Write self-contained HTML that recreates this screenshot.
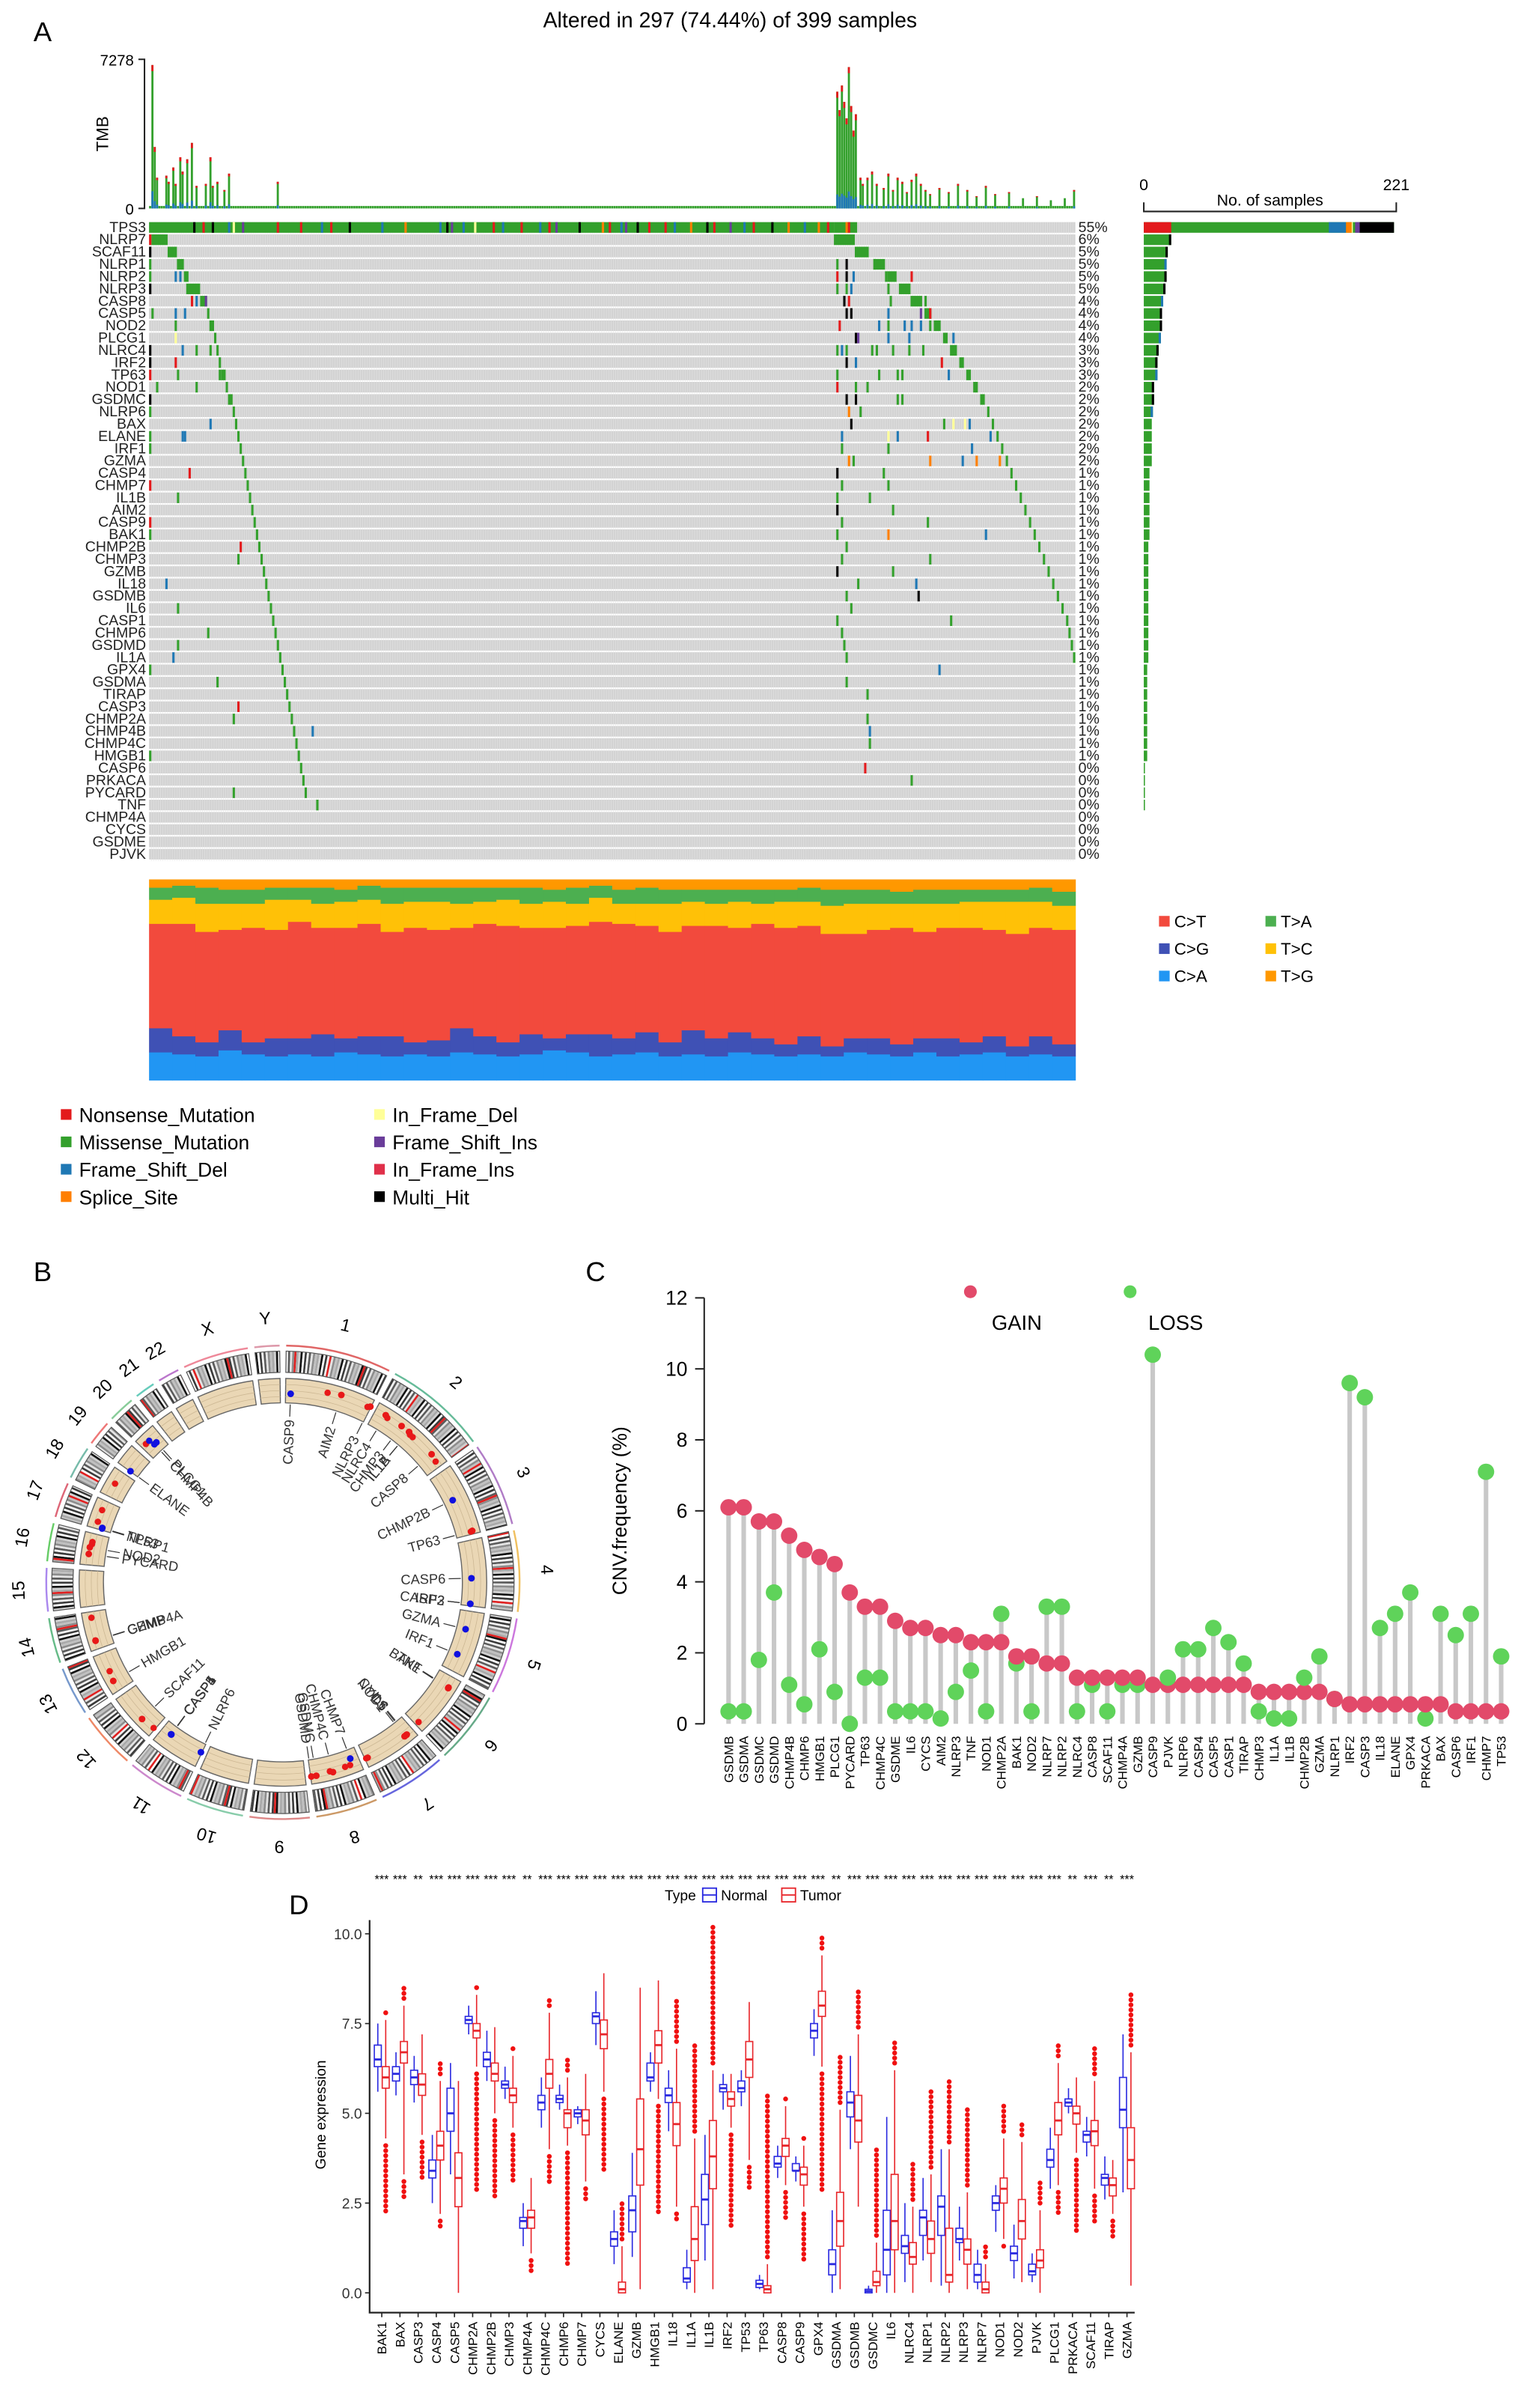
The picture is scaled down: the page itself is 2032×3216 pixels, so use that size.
<!DOCTYPE html>
<html><head><meta charset="utf-8"><style>
html,body{margin:0;padding:0;background:#fff;}
svg{display:block;font-family:"Liberation Sans",sans-serif;}
.n{font-family:"Liberation Sans Narrow","Liberation Sans",sans-serif;}
</style></head><body>
<svg id="fig" xmlns="http://www.w3.org/2000/svg" width="2032" height="3216" viewBox="0 0 1000 1582.68">
<rect x="0" y="0" width="1000" height="1582.68" fill="#fff"/>
<text x="22" y="27" font-size="18">A</text>
<text x="480" y="18" font-size="14" text-anchor="middle">Altered in 297 (74.44%) of 399 samples</text>
<text x="22" y="842" font-size="18">B</text>
<text x="385" y="842" font-size="18">C</text>
<text x="190" y="1258" font-size="18">D</text>
<g id="gA"></g>
<g id="gB"></g>
<g id="gC"></g>
<g id="gD"></g>
</svg>
<script>
const NS='http://www.w3.org/2000/svg';
function mk(tag,at,p){const e=document.createElementNS(NS,tag);for(const k in at)e.setAttribute(k,at[k]);p.appendChild(e);return e;}
function tx(s,at,p){const e=mk('text',at,p);e.textContent=s;return e;}

/* ================= PANEL A DATA ================= */
const oncoGenes=['TPS3','NLRP7','SCAF11','NLRP1','NLRP2','NLRP3','CASP8','CASP5','NOD2','PLCG1','NLRC4','IRF2','TP63','NOD1','GSDMC','NLRP6','BAX','ELANE','IRF1','GZMA','CASP4','CHMP7','IL1B','AIM2','CASP9','BAK1','CHMP2B','CHMP3','GZMB','IL18','GSDMB','IL6','CASP1','CHMP6','GSDMD','IL1A','GPX4','GSDMA','TIRAP','CASP3','CHMP2A','CHMP4B','CHMP4C','HMGB1','CASP6','PRKACA','PYCARD','TNF','CHMP4A','CYCS','GSDME','PJVK'];
const oncoPct=[55,6,5,5,5,5,4,4,4,4,3,3,3,2,2,2,2,2,2,2,1,1,1,1,1,1,1,1,1,1,1,1,1,1,1,1,1,1,1,1,1,1,1,1,0,0,0,0,0,0,0,0];
const oncoCount=[219,24,21,20,20,19,17,16,16,15,13,12,12,9,9,8,7,7,7,7,5,5,5,5,5,5,4,4,4,4,4,4,4,4,4,4,3,3,3,3,3,3,3,3,1,1,1,1,0,0,0,0];
const diagL=[[0,0],[1,7],[8,4],[12,3],[15,2],[16,6],[22,3],[25,1],[26,2],[28,1],[29,1],[30,1],[31,2],[33,1],[34,2],[36,1],[37,1],[38,1],[39,1],[40,1],[41,1],[42,1],[43,1],[44,1],[45,1],[46,1],[47,1],[48,1],[49,1],[50,1],[51,1],[52,1],[53,1],[54,1],[55,1],[56,1],[57,1],[58,1],[59,1],[60,1],[61,1],[62,1],[63,1],[64,1],[65,1],[66,1],[67,1],[72,1],[0,0],[0,0],[0,0],[0,0]];
const diagR=[[0,0],[295,9],[304,6],[312,5],[318,4],[323,5],[329,4],[334,3],[338,3],[342,2],[345,3],[349,2],[352,2],[355,2],[358,2],[361,1],[363,1],[365,1],[367,1],[369,1],[371,1],[373,1],[375,1],[377,1],[379,1],[381,1],[383,1],[385,1],[387,1],[389,1],[391,1],[393,1],[395,1],[396,1],[397,1],[398,1],[0,0],[0,0],[0,0],[0,0],[0,0],[0,0],[0,0],[0,0],[0,0],[0,0],[0,0],[0,0],[0,0],[0,0],[0,0],[0,0]];
const scatter=[[1,0,1],[2,0,7],[3,0,0],[4,0,0],[4,11,2],[4,13,2],[5,0,7],[6,18,1],[6,20,2],[6,24,5],[7,1,0],[7,11,2],[7,15,2],[8,11,0],[9,11,4],[10,0,7],[10,14,2],[10,20,0],[10,26,0],[11,0,7],[11,11,1],[12,0,1],[12,12,0],[12,30,0],[13,3,0],[13,20,0],[14,0,7],[15,0,0],[16,26,2],[17,0,0],[17,14,2],[17,15,2],[18,0,0],[20,17,1],[21,0,1],[22,12,0],[24,0,1],[25,0,0],[26,39,1],[27,38,0],[29,7,2],[31,12,0],[33,25,0],[34,12,0],[35,10,2],[36,0,0],[37,29,0],[39,38,1],[40,36,0],[41,70,2],[43,0,0],[46,36,0],[47,72,0],
[3,296,0],[3,300,7],[3,312,0],[4,296,1],[4,300,7],[4,303,2],[4,317,0],[4,328,1],[5,296,0],[5,300,0],[5,302,2],[5,318,0],[6,299,7],[6,301,1],[6,319,0],[6,328,0],[6,334,0],[7,300,7],[7,302,7],[7,318,2],[7,332,5],[7,336,1],[8,297,1],[8,314,2],[8,318,0],[8,325,2],[8,328,2],[8,332,2],[8,336,0],[9,304,7],[9,305,5],[9,318,2],[9,327,2],[9,346,2],[10,296,0],[10,298,2],[10,300,0],[10,311,0],[10,313,0],[10,320,0],[10,327,0],[10,333,0],[11,300,7],[11,304,2],[11,341,1],[12,296,0],[12,314,0],[12,322,0],[12,324,0],[12,344,2],[13,296,1],[13,304,0],[13,309,0],[14,300,7],[14,304,7],[14,322,0],[14,324,0],[15,301,3],[15,306,0],[16,302,7],[16,342,0],[16,346,4],[16,351,4],[16,353,2],[17,298,2],[17,318,4],[17,322,2],[17,335,1],[17,362,2],[18,298,0],[18,318,0],[18,354,2],[19,301,3],[19,303,0],[19,336,3],[19,350,2],[19,356,3],[19,366,3],[20,296,7],[20,316,0],[21,298,0],[21,318,0],[22,296,0],[22,310,0],[23,296,7],[23,320,0],[24,298,0],[24,335,0],[25,296,0],[25,318,3],[25,360,2],[26,300,0],[27,298,0],[27,336,0],[28,296,7],[28,320,0],[29,305,0],[29,330,2],[30,300,0],[30,331,7],[31,302,0],[32,296,0],[32,345,0],[33,298,0],[34,299,0],[35,300,0],[36,340,2],[37,300,0],[38,309,0],[40,309,0],[41,310,2],[42,310,0],[44,308,1],[45,328,0]];
const typeColors=['#33a02c','#e31a1c','#1f78b4','#ff7f00','#ffff99','#6a3d9a','#e0304a','#000000'];
const tmbSpikes=[[1,7000],[2,3000],[3,1500],[7,1600],[8,1300],[10,2000],[11,1200],[13,2500],[14,1800],[16,2400],[18,3200],[20,1100],[24,1200],[26,2500],[27,1100],[29,1300],[32,900],[34,1700],[55,1300],[296,5700],[297,4800],[298,6000],[299,5200],[300,4400],[301,6900],[302,5000],[303,3800],[304,4600],[306,1500],[307,1200],[309,1500],[311,1800],[313,1200],[316,1000],[318,1700],[320,900],[322,1500],[324,1300],[326,800],[328,1400],[330,1700],[332,1200],[334,900],[336,700],[340,1000],[344,800],[348,1200],[352,900],[356,600],[360,1100],[364,700],[370,800],[376,500],[382,600],[388,400],[394,500],[398,900]];
const tmbBaseline=120;
const specCA=[0.14,0.13,0.12,0.15,0.13,0.12,0.13,0.12,0.14,0.13,0.12,0.13,0.12,0.14,0.13,0.12,0.13,0.15,0.14,0.12,0.13,0.14,0.12,0.13,0.12,0.14,0.13,0.12,0.13,0.12,0.14,0.13,0.12,0.14,0.12,0.13,0.14,0.12,0.13,0.12];
const specCG=[0.12,0.09,0.07,0.10,0.06,0.09,0.08,0.11,0.07,0.09,0.10,0.06,0.08,0.12,0.09,0.07,0.10,0.06,0.09,0.11,0.08,0.10,0.07,0.12,0.09,0.10,0.08,0.06,0.09,0.05,0.07,0.08,0.06,0.07,0.09,0.06,0.08,0.05,0.09,0.06];
const specCT=[0.52,0.56,0.55,0.50,0.57,0.54,0.58,0.53,0.55,0.56,0.52,0.57,0.55,0.50,0.56,0.58,0.53,0.55,0.54,0.56,0.57,0.53,0.55,0.52,0.56,0.52,0.57,0.58,0.55,0.56,0.52,0.54,0.58,0.53,0.55,0.57,0.53,0.56,0.54,0.57];
const specTC=[0.12,0.13,0.14,0.13,0.12,0.15,0.11,0.12,0.13,0.12,0.14,0.13,0.14,0.12,0.11,0.13,0.12,0.13,0.11,0.12,0.10,0.11,0.14,0.12,0.11,0.13,0.10,0.13,0.12,0.14,0.15,0.13,0.12,0.14,0.12,0.13,0.14,0.16,0.13,0.12];
const specTA=[0.06,0.06,0.08,0.07,0.07,0.06,0.06,0.08,0.06,0.07,0.08,0.07,0.07,0.08,0.07,0.06,0.08,0.06,0.08,0.06,0.07,0.08,0.07,0.06,0.07,0.06,0.07,0.06,0.07,0.08,0.07,0.07,0.06,0.07,0.07,0.06,0.06,0.06,0.07,0.07];

(function(){
const g=document.getElementById('gA');
const X0=98,X1=707,NS_=399,sw=(X1-X0)/NS_;
const sx=s=>X0+s*sw;
const tmbTop=39,tmbBot=137,tmbMax=7278;
const ty=v=>tmbBot-(v/tmbMax)*(tmbBot-tmbTop);
let ax=mk('path',{d:`M91,${tmbTop}H95V${tmbBot}H91`,fill:'none',stroke:'#222','stroke-width':1},g);

let t=tx('7278',{x:88,y:tmbTop+4,'font-size':10,'text-anchor':'end',class:'n'},g);

t=tx('0',{x:88,y:tmbBot+4,'font-size':10,'text-anchor':'end',class:'n'},g);

t=tx('TMB',{x:0,y:0,'font-size':11,'text-anchor':'middle',transform:`translate(71,88) rotate(-90)`},g);

const tmbMap={};tmbSpikes.forEach(p=>tmbMap[p[0]]=p[1]);
const tg=mk('g',{},g);
for(let s=0;s<NS_;s++){
  const v=tmbMap[s]!==undefined?tmbMap[s]:tmbBaseline;
  const y=ty(v),h=tmbBot-y;
  const b=mk('rect',{x:sx(s),y:y,width:sw*0.9,height:h,fill:'#33a02c'},tg);
  
  if(v>500){
    const r=mk('rect',{x:sx(s),y:y,width:sw*0.9,height:Math.min(4,h*0.08),fill:'#e31a1c'},tg);
    
    const bl=mk('rect',{x:sx(s),y:tmbBot-h*0.12,width:sw*0.9,height:h*0.12,fill:'#1f78b4'},tg);
    
  }
}
const R0=146,RH=420/52;
const og=mk('g',{},g);
oncoGenes.forEach((gn,i)=>{
  const y=R0+i*RH;
  const bg=mk('rect',{x:X0,y:y,width:X1-X0,height:RH-1.1,fill:'#d3d3d3'},og);
  
  const l=tx(gn,{x:96,y:y+RH-1.6,'font-size':9.6,'text-anchor':'end',class:'n',fill:'#222'},g);
  
  const p=tx(oncoPct[i]+'%',{x:709,y:y+RH-1.6,'font-size':9.6,class:'n',fill:'#222'},g);
  
});
let dpath='';for(let s=1;s<NS_;s++){dpath+=`M${sx(s).toFixed(2)},${R0}V${R0+52*RH}`;}
const cs=mk('path',{d:dpath,stroke:'#e6e6e6','stroke-width':0.25},og);

function cell(gi,s,len,type){
  const r=mk('rect',{x:sx(s),y:R0+gi*RH,width:sw*len,height:RH-1.1,fill:typeColors[type]},og);
  
}
cell(0,0,295,0);
const tpsTicks=[[19,7],[23,1],[27,7],[34,2],[36,4],[40,5],[55,1],[65,1],[74,2],[78,1],[86,7],[100,2],[110,3],[125,2],[128,7],[130,5],[135,2],[140,4],[148,1],[152,2],[160,1],[168,2],[172,1],[175,5],[185,7],[195,3],[198,1],[203,2],[205,5],[210,7],[215,1],[222,1],[226,2],[233,3],[240,7],[243,1],[250,5],[256,2],[260,1],[268,7],[275,3],[282,2],[288,3],[292,1]];
tpsTicks.forEach(p=>cell(0,p[0],1,p[1]));
cell(0,295,10,0);cell(0,300,1,3);cell(0,301,1,1);
diagL.forEach((d,i)=>{if(d[1]>0)cell(i,d[0],d[1],0);});
diagR.forEach((d,i)=>{if(d[1]>0)cell(i,d[0],d[1],0);});
scatter.forEach(p=>cell(p[0],p[1],1,p[2]));
const BX=752,BW=166,cmax=221;
const bx=c=>BX+c/cmax*BW;
const ra=mk('path',{d:`M${BX},133V139H${BX+BW}V133`,fill:'none',stroke:'#222','stroke-width':1},g);

t=tx('0',{x:BX,y:125,'font-size':10.5,'text-anchor':'middle'},g);
t=tx('221',{x:BX+BW,y:125,'font-size':10.5,'text-anchor':'middle'},g);
t=tx('No. of samples',{x:BX+BW/2,y:135,'font-size':10.5,'text-anchor':'middle'},g);
const bg2=mk('g',{},g);
oncoCount.forEach((c,i)=>{
  if(c<=0)return;
  const y=R0+i*RH;
  const w=bx(c)-BX;
  const b=mk('rect',{x:BX,y:y,width:w,height:RH-1.1,fill:'#33a02c'},bg2);
  
  if(i===0){
    const segs=[[0,24,1],[162,177,2],[177,182,3],[182,183,4],[185,189,5],[189,219,7]];
    segs.forEach(sg=>{const r=mk('rect',{x:bx(sg[0]),y:y,width:bx(sg[1])-bx(sg[0]),height:RH-1.1,fill:typeColors[sg[2]]},bg2);});
  } else if(c>=8){
    const r=mk('rect',{x:bx(c-2),y:y,width:bx(c)-bx(c-2),height:RH-1.1,fill:i%3?'#000':'#1f78b4'},bg2);
    
  }
});
const SY0=578,SY1=710,N=specCA.length,cw=(X1-X0)/N;
const spg=mk('g',{},g);
const specCols=['#2196F3','#3F51B5','#F24A3D','#FFC107','#4CAF50','#FF9800'];
for(let i=0;i<N;i++){
  const f=[specCA[i],specCG[i],specCT[i],specTC[i],specTA[i]];
  const sum=f.reduce((a,b)=>a+b,0);f.push(Math.max(0,1-sum));
  let yb=SY1;
  f.forEach((v,k)=>{const h=v*(SY1-SY0);const r=mk('rect',{x:X0+i*cw,y:yb-h,width:cw+0.3,height:h+0.2,fill:specCols[k]},spg);yb-=h;});
}
const sl=[['C>T',762,606,2],['T>A',832,606,4],['C>G',762,624,1],['T>C',832,624,3],['C>A',762,642,0],['T>G',832,642,5]];
sl.forEach(e=>{const r=mk('rect',{x:e[1],y:e[2]-4,width:7,height:7,fill:specCols[e[3]]},g);
const l=tx(e[0],{x:e[1]+10,y:e[2]+3.5,'font-size':11},g);});
const vl=[['Nonsense_Mutation',40,733,1],['Missense_Mutation',40,751,0],['Frame_Shift_Del',40,769,2],['Splice_Site',40,787,3],['In_Frame_Del',246,733,4],['Frame_Shift_Ins',246,751,5],['In_Frame_Ins',246,769,6],['Multi_Hit',246,787,7]];
vl.forEach(e=>{const r=mk('rect',{x:e[1],y:e[2]-4,width:7,height:7,fill:typeColors[e[3]]},g);
const l=tx(e[0],{x:e[1]+12,y:e[2]+4.5,'font-size':13},g);});
})();

/* ================= PANEL B DATA ================= */
const chrNames=['1','2','3','4','5','6','7','8','9','10','11','12','13','14','15','16','17','18','19','20','21','22','X','Y'];
const chrLen=[249,243,198,191,181,171,159,146,141,136,135,134,115,107,102,90,83,78,59,63,48,51,155,59];
const chrArcCol=['#e06666','#66bb99','#b07cc6','#f0c060','#cc77dd','#66aa88','#6666dd','#cc9966','#dd8888','#88ccaa','#cc88cc','#ee8866','#7799cc','#66bb88','#aa88ee','#66cc66','#dd6677','#77bbaa','#ee7777','#88cc99','#66ccbb','#bb77cc','#ee8899','#dd99aa'];
const bGenes=['CASP9','AIM2','NLRP3','NLRC4','CHMP3','IL1A','IL1B','CASP8','CHMP2B','TP63','CASP6','IRF2','CASP3','GZMA','IRF1','TNF','BAK1','IL6','CYCS','NOD1','CHMP7','CHMP4C','GSDMC','GSDMD','NLRP6','CASP1','CASP4','CASP5','SCAF11','HMGB1','GZMB','CHMP4A','PYCARD','NOD2','NLRP1','TP53','ELANE','CHMP4B','PLCG1'];
const bChr=[0,0,0,1,1,1,1,1,2,2,3,3,3,4,4,5,5,6,6,6,7,7,7,7,10,10,10,10,11,12,13,13,15,15,16,16,18,19,19];
const bPos=[15,159,247,32,86,113,113,202,87,189,110,185,185,54,131,31,33,22,25,30,23,82,130,144,3,105,104,104,46,31,25,24,31,50,5,7,1,32,40];
const bType=[1,0,0,0,0,0,0,0,1,0,1,1,1,1,1,0,0,0,0,0,1,0,0,0,1,1,1,1,0,0,0,0,0,0,1,1,1,1,1];
const bExtraPos=[[0,120,0],[0,240,0],[1,40,0],[1,120,0],[1,130,0],[1,225,0],[2,190,0],[5,160,0],[6,150,0],[6,155,0],[7,30,0],[7,45,0],[7,90,0],[11,5,0],[12,60,0],[13,90,0],[15,60,0],[15,66,0],[16,20,0],[16,55,0],[17,40,0],[19,15,0],[19,28,1]];

(function(){
const g=document.getElementById('gB');
const cx=186,cy=1040,gap=1.6;
const total=chrLen.reduce((a,b)=>a+b,0);
const scale=(360-gap*chrLen.length)/total;
const starts=[];let a=gap/2;
chrLen.forEach(l=>{starts.push(a);a+=l*scale+gap;});
const ang=(c,p)=>starts[c]+p*scale;
const pt=(deg,r)=>{const t=deg*Math.PI/180;return [cx+r*Math.sin(t),cy-r*Math.cos(t)];};
function arcPath(a0,a1,r0,r1){const p1=pt(a0,r1),p2=pt(a1,r1),p3=pt(a1,r0),p4=pt(a0,r0);const lg=(a1-a0)>180?1:0;
return `M${p1[0]},${p1[1]}A${r1},${r1} 0 ${lg} 1 ${p2[0]},${p2[1]}L${p3[0]},${p3[1]}A${r0},${r0} 0 ${lg} 0 ${p4[0]},${p4[1]}Z`;}
const bandGreys=['#f2f2f2','#8c8c8c','#d0d0d0','#3a3a3a','#e4e4e4','#a8a8a8','#ffffff','#5a5a5a','#c0c0c0','#111111'];
chrLen.forEach((l,c)=>{
  const a0=starts[c],a1=a0+l*scale;
  const oa=mk('path',{d:arcPath(a0,a1,155,156.2),fill:chrArcCol[c]},g);
  
  const step=5;let k=0;
  for(let p=0;p<l;p+=step,k++){
    const e=Math.min(l,p+step);
    const col=bandGreys[(c*3+k*7)%bandGreys.length];
    const b=mk('path',{d:arcPath(ang(c,p),ang(c,e),138,152),fill:(k*5+c)%17===3?'#e02020':col},g);
    
  }
  const io=mk('path',{d:arcPath(a0,a1,138,152),fill:'none',stroke:'#555','stroke-width':0.6},g);
  
  const tr=mk('path',{d:arcPath(a0,a1,118,134),fill:'#ead7b5',stroke:'#666','stroke-width':0.7},g);
  
  [122,126,130].forEach(r=>{const p1=pt(a0,r),p2=pt(a1,r);const ln=mk('path',{d:`M${p1[0]},${p1[1]}A${r},${r} 0 ${(a1-a0)>180?1:0} 1 ${p2[0]},${p2[1]}`,fill:'none',stroke:'#cdb894','stroke-width':0.4},g);});
  const mid=(a0+a1)/2,lp=pt(mid,174);
  const lb=tx(chrNames[c],{x:lp[0],y:lp[1]+4,'font-size':11.5,'text-anchor':'middle',transform:`rotate(${mid} ${lp[0]} ${lp[1]})`},g);
  
});
bExtraPos.forEach(e=>{const p=pt(ang(e[0],e[1]),128);const d=mk('circle',{cx:p[0],cy:p[1],r:2.1,fill:e[2]?'#1010e0':'#e81818'},g);});
bGenes.forEach((gn,i)=>{
  const a=ang(bChr[i],bPos[i]);
  const p=pt(a,bType[i]?124:129);
  const d=mk('circle',{cx:p[0],cy:p[1],r:2.2,fill:bType[i]?'#1010e0':'#e81818'},g);
  
  const q1=pt(a,117),q2=pt(a,109);
  const ln=mk('path',{d:`M${q1[0]},${q1[1]}L${q2[0]},${q2[1]}`,stroke:'#333','stroke-width':0.6},g);
  
  const q=pt(a,107);
  const norm=((a%360)+360)%360;
  let t;
  if(norm<180) t=tx(gn,{x:q[0],y:q[1]+3,'font-size':9,'text-anchor':'end',fill:'#333',transform:`rotate(${norm-90} ${q[0]} ${q[1]})`},g);
  else t=tx(gn,{x:q[0],y:q[1]+3,'font-size':9,'text-anchor':'start',fill:'#333',transform:`rotate(${norm+90} ${q[0]} ${q[1]})`},g);
  
});
})();

/* ================= PANEL C DATA ================= */
const cnvGenes=['GSDMB','GSDMA','GSDMC','GSDMD','CHMP4B','CHMP6','HMGB1','PLCG1','PYCARD','TP63','CHMP4C','GSDME','IL6','CYCS','AIM2','NLRP3','TNF','NOD1','CHMP2A','BAK1','NOD2','NLRP7','NLRP2','NLRC4','CASP8','SCAF11','CHMP4A','GZMB','CASP9','PJVK','NLRP6','CASP4','CASP5','CASP1','TIRAP','CHMP3','IL1A','IL1B','CHMP2B','GZMA','NLRP1','IRF2','CASP3','IL18','ELANE','GPX4','PRKACA','BAX','CASP6','IRF1','CHMP7','TP53'];
const cnvGain=[6.1,6.1,5.7,5.7,5.3,4.9,4.7,4.5,3.7,3.3,3.3,2.9,2.7,2.7,2.5,2.5,2.3,2.3,2.3,1.9,1.9,1.7,1.7,1.3,1.3,1.3,1.3,1.3,1.1,1.1,1.1,1.1,1.1,1.1,1.1,0.9,0.9,0.9,0.9,0.9,0.7,0.55,0.55,0.55,0.55,0.55,0.55,0.55,0.35,0.35,0.35,0.35];
const cnvLoss=[0.35,0.35,1.8,3.7,1.1,0.55,2.1,0.9,0,1.3,1.3,0.35,0.35,0.35,0.15,0.9,1.5,0.35,3.1,1.7,0.35,3.3,3.3,0.35,1.1,0.35,1.1,1.1,10.4,1.3,2.1,2.1,2.7,2.3,1.7,0.35,0.15,0.15,1.3,1.9,0.7,9.6,9.2,2.7,3.1,3.7,0.15,3.1,2.5,3.1,7.1,1.9];
const cnvTicks=[0,2,4,6,8,10,12];

(function(){
const g=document.getElementById('gC');
const y0=1133,ppu=23.33,X=479,step=9.96;
const y=v=>y0-v*ppu, x=i=>X+i*step;
const ax=mk('path',{d:`M463,${y(12)}V${y(0)}`,stroke:'#222','stroke-width':1},g);

cnvTicks.forEach(v=>{const tk=mk('path',{d:`M457,${y(v)}H463`,stroke:'#222','stroke-width':1},g);
const l=tx(String(v),{x:452,y:y(v)+4.5,'font-size':13,'text-anchor':'end',class:'n'},g);});
const yl=tx('CNV.frequency (%)',{x:0,y:0,'font-size':13,'text-anchor':'middle',transform:`translate(412,993) rotate(-90)`},g);

cnvGenes.forEach((gn,i)=>{
  const m=Math.max(cnvGain[i],cnvLoss[i]);
  const st=mk('path',{d:`M${x(i)},${y(0)}V${y(m)}`,stroke:'#c8c8c8','stroke-width':3},g);
  
  const order=cnvGain[i]>=cnvLoss[i]?[['loss',cnvLoss[i],'#5fd35a'],['gain',cnvGain[i],'#e24a6a']]:[['gain',cnvGain[i],'#e24a6a'],['loss',cnvLoss[i],'#5fd35a']];
  order.forEach(o=>{const c=mk('circle',{cx:x(i),cy:y(o[1]),r:5.4,fill:o[2]},g);});
  const l=tx(gn,{x:0,y:0,'font-size':8.4,'text-anchor':'end',class:'n',transform:`translate(${x(i)+3},${y0+8}) rotate(-90)`},g);
  
});
let c=mk('circle',{cx:638,cy:849,r:4.2,fill:'#e24a6a'},g);
c=mk('circle',{cx:743,cy:849,r:4.2,fill:'#5fd35a'},g);
let l=tx('GAIN',{x:652,y:874,'font-size':13.5},g);
l=tx('LOSS',{x:755,y:874,'font-size':13.5},g);
})();

/* ================= PANEL D DATA ================= */
const expGenes=['BAK1','BAX','CASP3','CASP4','CASP5','CHMP2A','CHMP2B','CHMP3','CHMP4A','CHMP4C','CHMP6','CHMP7','CYCS','ELANE','GZMB','HMGB1','IL18','IL1A','IL1B','IRF2','TP53','TP63','CASP8','CASP9','GPX4','GSDMA','GSDMB','GSDMC','IL6','NLRC4','NLRP1','NLRP2','NLRP3','NLRP7','NOD1','NOD2','PJVK','PLCG1','PRKACA','SCAF11','TIRAP','GZMA'];
const nMed=[6.5,6.1,6.0,3.4,5.0,7.6,6.5,5.8,2.0,5.3,5.4,5.0,7.7,1.5,2.3,6.0,5.5,0.4,2.6,5.7,5.7,0.25,3.6,3.4,7.3,0.8,5.3,0.05,1.2,1.3,2.1,2.4,1.5,0.5,2.5,1.1,0.6,3.7,5.3,4.4,3.2,5.1];
const nQ1=[6.3,5.9,5.8,3.2,4.5,7.5,6.3,5.7,1.8,5.1,5.3,4.9,7.5,1.3,1.7,5.9,5.3,0.3,1.9,5.6,5.6,0.15,3.5,3.4,7.1,0.5,4.9,0.0,0.5,1.1,1.6,1.6,1.4,0.3,2.3,0.9,0.5,3.5,5.2,4.2,3.0,4.6];
const nQ3=[6.9,6.3,6.2,3.7,5.7,7.7,6.7,5.9,2.1,5.5,5.5,5.1,7.8,1.7,2.7,6.4,5.7,0.7,3.3,5.8,5.9,0.35,3.8,3.6,7.5,1.2,5.6,0.1,2.3,1.6,2.3,2.7,1.8,0.8,2.7,1.3,0.8,4.0,5.4,4.5,3.3,6.0];
const nLo=[5.6,5.5,5.3,2.5,3.3,7.2,5.9,5.4,1.3,4.6,5.1,4.7,6.9,0.8,1.0,5.6,4.5,0.1,0.9,5.1,5.2,0.1,3.2,3.1,6.6,0.0,4.0,0.0,0.0,0.3,0.9,0.2,0.9,0.1,1.7,0.4,0.3,2.9,5.0,3.8,2.6,2.8];
const nHi=[7.5,6.7,6.6,4.4,6.4,8.0,7.3,6.3,2.5,6.0,5.8,5.2,8.4,2.3,3.9,6.7,6.2,1.2,4.4,6.1,6.2,0.5,4.1,3.8,7.9,2.3,6.6,0.2,4.9,2.5,3.2,4.0,2.4,1.2,3.0,1.9,1.1,4.6,5.7,4.9,3.8,7.2];
const tMed=[6.0,6.7,5.8,4.1,3.2,7.3,6.1,5.5,2.1,6.1,5.0,4.8,7.2,0.1,4.0,6.9,4.7,1.5,3.8,5.4,6.5,0.1,4.1,3.3,8.0,2.0,4.8,0.3,2.0,1.0,1.5,0.5,1.2,0.1,2.9,2.0,0.9,4.8,5.0,4.5,3.0,3.7];
const tQ1=[5.7,6.4,5.5,3.7,2.4,7.1,5.9,5.3,1.8,5.7,4.6,4.4,6.8,0.0,3.0,6.4,4.1,0.9,2.9,5.2,6.0,0.0,3.8,3.0,7.7,1.3,4.2,0.2,1.2,0.8,1.1,0.3,0.8,0.0,2.5,1.5,0.7,4.4,4.7,4.1,2.7,2.9];
const tQ3=[6.3,7.0,6.1,4.5,3.9,7.5,6.4,5.7,2.3,6.5,5.1,5.1,7.6,0.3,5.4,7.3,5.3,2.4,4.8,5.6,7.0,0.2,4.3,3.5,8.4,2.8,5.5,0.6,3.3,1.4,2.0,1.8,1.5,0.3,3.2,2.6,1.2,5.3,5.2,4.8,3.2,4.6];
const tLo=[4.3,3.3,4.4,2.2,0.0,6.3,5.0,4.6,1.1,4.0,4.1,3.1,5.6,0.0,0.1,5.4,2.4,0.0,0.1,4.6,3.7,0.0,3.0,2.4,6.3,0.1,2.4,0.0,0.0,0.0,0.3,0.0,0.1,0.0,1.5,0.3,0.0,3.0,3.9,2.9,2.2,0.2];
const tHi=[7.6,8.0,7.2,5.9,5.9,8.3,7.4,6.6,3.2,7.8,6.0,6.1,8.9,1.3,8.5,8.7,6.8,4.3,6.2,6.1,8.1,0.8,5.2,4.1,9.4,5.1,7.2,1.4,6.2,2.4,3.3,4.0,2.8,0.8,4.3,4.2,2.3,6.4,6.0,5.9,3.7,6.7];
const tOutLo=[2.2,2.6,3.1,1.8,0,2.8,2.7,3.0,0.6,3.0,0.8,2.5,3.4,0,0,2.2,2.0,0,0,1.8,2.9,0,2.0,0.8,2.8,0,0,0,0,0,0,0,0,0,1.3,0,0,2.2,1.6,1.9,1.5,0];
const tOutHi=[7.8,8.5,7.3,6.5,0,8.5,0,6.8,3.4,8.2,6.5,0,0,2.5,0,0,8.2,6.9,10.2,0,0,5.5,5.4,4.4,9.9,6.6,8.5,4.0,7.0,3.7,5.6,6.0,5.2,1.3,5.2,4.8,3.2,6.9,6.1,6.8,0,8.4];
const sigLabels=['***','***','**','***','***','***','***','***','**','***','***','***','***','***','***','***','***','***','***','***','***','***','***','***','***','**','***','***','***','***','***','***','***','***','***','***','***','***','**','***','**','***'];
const expTicks=[0,2.5,5,7.5,10];

(function(){
const g=document.getElementById('gD');
const y0=1507,ppu=23.6,X=251,step=11.95,bw=4.6;
const y=v=>y0-v*ppu,x=i=>X+i*step;
const ax=mk('path',{d:`M243,1262V1520H746`,fill:'none',stroke:'#222','stroke-width':1.1},g);

expTicks.forEach(v=>{const tk=mk('path',{d:`M240,${y(v)}H243`,stroke:'#222','stroke-width':0.8},g);
const l=tx(v.toFixed(1),{x:238,y:y(v)+3.5,'font-size':9.5,'text-anchor':'end',class:'n',fill:'#333'},g);});
const yl=tx('Gene expression',{x:0,y:0,'font-size':9.5,'text-anchor':'middle',transform:`translate(214,1390) rotate(-90)`},g);

function box(cxp,lo,q1,md,q3,hi,col,nm){
  const w=mk('path',{d:`M${cxp},${y(hi)}V${y(q3)}M${cxp},${y(q1)}V${y(lo)}`,stroke:col,'stroke-width':0.8},g);
  const r=mk('rect',{x:cxp-bw/2,y:y(q3),width:bw,height:Math.max(0.8,y(q1)-y(q3)),fill:'#fff',stroke:col,'stroke-width':0.8},g);
  const m=mk('path',{d:`M${cxp-bw/2},${y(md)}H${cxp+bw/2}`,stroke:col,'stroke-width':1.4},g);
}
expGenes.forEach((gn,i)=>{
  const xn=x(i)-2.6,xt=x(i)+2.6;
  box(xn,nLo[i],nQ1[i],nMed[i],nQ3[i],nHi[i],'#2a2ae0','normal');
  box(xt,tLo[i],tQ1[i],tMed[i],tQ3[i],tHi[i],'#e8262b','tumor');
  if(tOutLo[i]>0){for(let v=tLo[i]-0.2;v>=tOutLo[i];v-=0.14){const d=mk('circle',{cx:xt,cy:y(v),r:1.6,fill:'#f01010'},g);}}
  if(tOutHi[i]>0){for(let v=tHi[i]+0.2;v<=tOutHi[i];v+=0.14){const d=mk('circle',{cx:xt,cy:y(v),r:1.6,fill:'#f01010'},g);}}
  const s=tx(sigLabels[i],{x:x(i),y:1238,'font-size':8,'text-anchor':'middle',class:'n'},g);
  
  const l=tx(gn,{x:0,y:0,'font-size':8.4,'text-anchor':'end',class:'n',transform:`translate(${x(i)+3},1526) rotate(-90)`},g);
  
  const tk=mk('path',{d:`M${x(i)},1520V1523`,stroke:'#222','stroke-width':0.8},g);
});
let l=tx('Type',{x:437,y:1249,'font-size':9.5,class:'n'},g);
let r=mk('rect',{x:462,y:1241,width:9,height:9,fill:'none',stroke:'#2a2ae0','stroke-width':0.9},g);
mk('path',{d:'M462,1245.5H471',stroke:'#2a2ae0','stroke-width':0.9},g);
l=tx('Normal',{x:474,y:1249,'font-size':9.5,class:'n'},g);
r=mk('rect',{x:514,y:1241,width:9,height:9,fill:'none',stroke:'#e8262b','stroke-width':0.9},g);
mk('path',{d:'M514,1245.5H523',stroke:'#e8262b','stroke-width':0.9},g);
l=tx('Tumor',{x:526,y:1249,'font-size':9.5,class:'n'},g);
})();
</script>
</body></html>
